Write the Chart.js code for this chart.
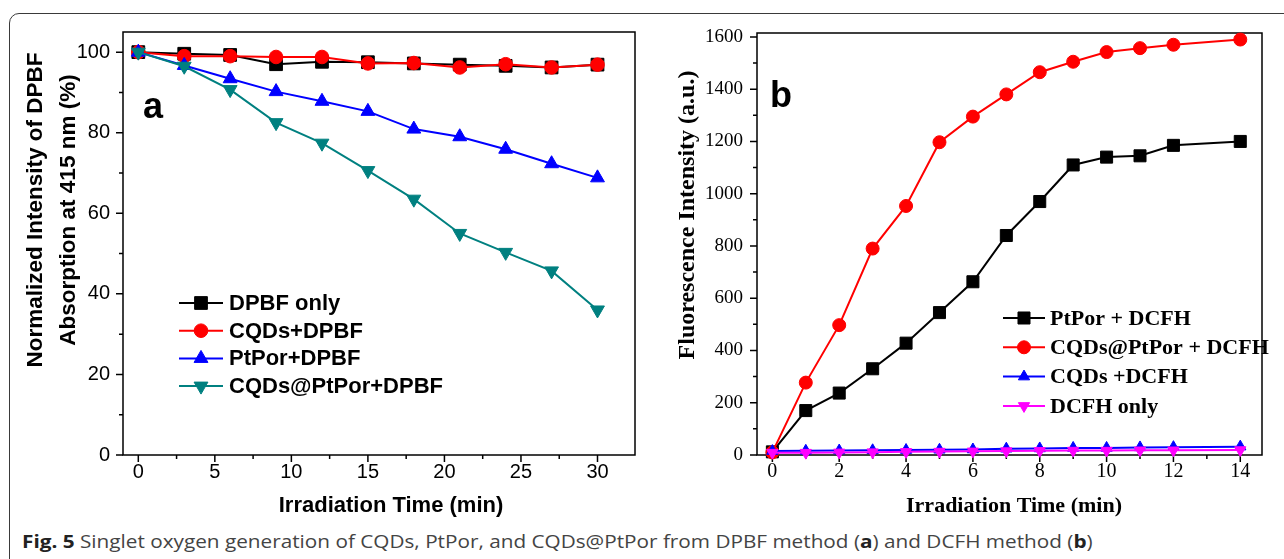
<!DOCTYPE html>
<html>
<head>
<meta charset="utf-8">
<script src="https://cdn.jsdelivr.net/npm/chart.js@4.4.1/dist/chart.umd.min.js"></script>
<style>
  body { margin: 0; background: #fff; width: 1284px; height: 559px; overflow: hidden; position: relative; }
  #frame { position: absolute; left: 9px; top: 13px; width: 1320px; height: 600px; border: 1.5px solid #3a3a3a; border-radius: 10px; }
  #ca { position: absolute; left: 0; top: 0; }
  #cb { position: absolute; left: 645px; top: 0; }
  #cap { position: absolute; left: 22px; top: 529px; font: 17.5px "Open Sans"; color: #444; white-space: nowrap;
         transform: scaleX(1.185); transform-origin: 0 0; }
  #cap b { color: #222; }
</style>
</head>
<body>
<div id="frame"></div>
<canvas id="ca" width="645" height="525"></canvas>
<canvas id="cb" width="639" height="525"></canvas>
<div id="cap"><b>Fig. 5</b> Singlet oxygen generation of CQDs, PtPor, and CQDs@PtPor from DPBF method (<b>a</b>) and DCFH method (<b>b</b>)</div>
<script>
// ---- panel a: DPBF method
const timeA = [0, 3, 6, 9, 12, 15, 18, 21, 24, 27, 30];
const dpbfOnly      = [100, 99.6, 99.3, 97.0, 97.6, 97.5, 97.2, 96.9, 96.6, 96.2, 96.9];
const cqdsDpbf      = [100, 99.0, 99.0, 98.8, 98.8, 97.2, 97.3, 96.2, 97.0, 96.2, 96.9];
const ptporDpbf     = [100, 96.7, 93.4, 90.2, 87.8, 85.3, 80.9, 79.0, 75.9, 72.3, 68.8];
const cqdsPtporDpbf = [100, 96.5, 90.7, 82.5, 77.4, 70.6, 63.5, 55.0, 50.3, 45.7, 36.0];
const xTicksA = [0, 5, 10, 15, 20, 25, 30];
const yTicksA = [0, 20, 40, 60, 80, 100];

// ---- panel b: DCFH method
const timeB = [0, 1, 2, 3, 4, 5, 6, 7, 8, 9, 10, 11, 12, 14];
const ptporDcfh     = [12, 170, 237, 330, 428, 545, 663, 840, 970, 1110, 1140, 1145, 1185, 1200];
const cqdsPtporDcfh = [10, 277, 497, 790, 953, 1197, 1295, 1380, 1465, 1505, 1542, 1557, 1570, 1590];
const cqdsDcfh      = [15, 16, 17, 18, 19, 20, 21, 24, 25, 27, 27, 29, 30, 32];
const dcfhOnly      = [9, 9, 10, 11, 12, 13, 14, 15, 16, 17, 17, 18, 18, 19];
const xTicksB = [0, 2, 4, 6, 8, 10, 12, 14];
const yTicksB = [0, 200, 400, 600, 800, 1000, 1200, 1400, 1600];

const SANS = '"Liberation Sans", Arial, sans-serif';
const SERIF = '"Liberation Serif", "Times New Roman", serif';

function pts(xs, ys) { return xs.map((x, i) => ({ x: x, y: ys[i] })); }

function series(label, xs, ys, color, style, radius, rot, n, i) {
  return {
    label: label, data: pts(xs, ys),
    borderColor: color, backgroundColor: color,
    pointBackgroundColor: color, pointBorderColor: color,
    borderWidth: 2, pointBorderWidth: 1,
    pointStyle: style, pointRadius: radius, pointRotation: rot || 0,
    tension: 0, clip: false, order: n - i
  };
}

function marker(ctx, style, rot, r, x, y, color) {
  ctx.fillStyle = color;
  ctx.strokeStyle = color;
  ctx.lineWidth = 1;
  ctx.beginPath();
  if (style === 'rect') {
    const s = r * Math.SQRT1_2;
    ctx.rect(x - s, y - s, 2 * s, 2 * s);
  } else if (style === 'circle') {
    ctx.arc(x, y, r, 0, Math.PI * 2);
  } else {
    let a = (rot || 0) * Math.PI / 180;
    ctx.moveTo(x + Math.sin(a) * r, y - Math.cos(a) * r);
    for (let k = 0; k < 2; k++) {
      a += Math.PI * 2 / 3;
      ctx.lineTo(x + Math.sin(a) * r, y - Math.cos(a) * r);
    }
    ctx.closePath();
  }
  ctx.fill();
  ctx.stroke();
}

// box, Origin-style ticks, titles and legend
const deco = {
  id: 'deco',
  beforeDatasetsDraw(chart, args, o) {
    const { ctx, chartArea: a, scales: { x, y } } = chart;
    ctx.save();
    ctx.strokeStyle = '#000';
    ctx.lineWidth = 1.5;
    ctx.strokeRect(a.left, a.top, a.right - a.left, a.bottom - a.top);
    ctx.beginPath();
    for (let v = 0; v <= o.xMax + 1e-9; v += o.xMinor) {
      const px = x.getPixelForValue(v);
      if (px > a.right) break;
      const len = o.xMajor.includes(+v.toFixed(3)) ? 7 : 4;
      ctx.moveTo(px, a.bottom);
      ctx.lineTo(px, a.bottom + len);
    }
    for (let v = 0; v <= o.yMax + 1e-9; v += o.yMinor) {
      const py = y.getPixelForValue(v);
      const len = o.yMajor.includes(+v.toFixed(3)) ? 7 : 4;
      ctx.moveTo(a.left, py);
      ctx.lineTo(a.left - len, py);
    }
    ctx.stroke();
    ctx.restore();
  },
  afterDraw(chart, args, o) {
    const ctx = chart.ctx;
    ctx.save();
    ctx.fillStyle = '#000';
    o.texts.forEach(t => {
      ctx.save();
      ctx.font = t.font;
      ctx.textAlign = 'center';
      ctx.textBaseline = t.base || 'middle';
      ctx.translate(t.x, t.y);
      if (t.rot) ctx.rotate(t.rot * Math.PI / 180);
      ctx.fillText(t.text, 0, 0);
      ctx.restore();
    });
    const L = o.legend;
    ctx.font = L.font;
    ctx.textAlign = 'left';
    ctx.textBaseline = 'middle';
    chart.data.datasets.forEach((ds, i) => {
      const yy = L.y + i * L.gap;
      ctx.strokeStyle = ds.borderColor;
      ctx.lineWidth = ds.borderWidth;
      ctx.beginPath();
      ctx.moveTo(L.x0, yy);
      ctx.lineTo(L.x1, yy);
      ctx.stroke();
      marker(ctx, ds.pointStyle, ds.pointRotation, ds.pointRadius, (L.x0 + L.x1) / 2, yy, ds.borderColor);
      ctx.fillStyle = '#000';
      ctx.fillText(ds.label, L.tx, yy + 1);
    });
    ctx.restore();
  }
};

function axisOpts(min, max, majors, font, pad, fit) {
  return {
    type: 'linear', min: min, max: max,
    grid: { display: false, drawTicks: false },
    border: { display: false },
    afterBuildTicks: s => { s.ticks = majors.map(v => ({ value: v })); },
    afterFit: fit,
    ticks: { color: '#000', font: font, padding: pad, autoSkip: false, maxRotation: 0,
             callback: v => String(v) }
  };
}

// panel a
new Chart(document.getElementById('ca'), {
  type: 'line',
  data: {
    datasets: [
      series('DPBF only', timeA, dpbfOnly, '#000000', 'rect', 9, 0, 4, 0),
      series('CQDs+DPBF', timeA, cqdsDpbf, '#ff0000', 'circle', 6.8, 0, 4, 1),
      series('PtPor+DPBF', timeA, ptporDpbf, '#0000ff', 'triangle', 8, 0, 4, 2),
      series('CQDs@PtPor+DPBF', timeA, cqdsPtporDpbf, '#008080', 'triangle', 8, 180, 4, 3)
    ]
  },
  options: {
    responsive: false, animation: false, events: [],
    layout: { padding: { left: 0, right: 2, top: 32, bottom: 0 } },
    scales: {
      x: axisOpts(-1, 32.45, xTicksA, { family: SANS, size: 20 }, 5, s => { s.height = 70; }),
      y: axisOpts(0, 105, yTicksA, { family: SANS, size: 20 }, 13, s => { s.width = 123; })
    },
    plugins: {
      legend: { display: false }, tooltip: { enabled: false },
      deco: {
        xMajor: xTicksA, xMinor: 2.5, xMax: 30,
        yMajor: yTicksA, yMinor: 10, yMax: 100,
        texts: [
          { text: 'Normalized Intensity of DPBF', x: 36, y: 210, rot: -90, font: 'bold 22.5px ' + SANS },
          { text: 'Absorption at 415 nm (%)', x: 69, y: 210, rot: -90, font: 'bold 22.5px ' + SANS },
          { text: 'Irradiation Time (min)', x: 391, y: 506, font: 'bold 22px ' + SANS },
          { text: 'a', x: 153, y: 118, base: 'alphabetic', font: 'bold 36px ' + SANS }
        ],
        legend: { x0: 179, x1: 223, tx: 229, y: 303, gap: 27.7, font: 'bold 22px ' + SANS }
      }
    }
  },
  plugins: [deco]
});

// panel b
new Chart(document.getElementById('cb'), {
  type: 'line',
  data: {
    datasets: [
      series('PtPor + DCFH', timeB, ptporDcfh, '#000000', 'rect', 8.5, 0, 4, 0),
      series('CQDs@PtPor + DCFH', timeB, cqdsPtporDcfh, '#ff0000', 'circle', 6.5, 0, 4, 1),
      series('CQDs +DCFH', timeB, cqdsDcfh, '#0000ff', 'triangle', 6.5, 0, 4, 2),
      series('DCFH only', timeB, dcfhOnly, '#ff00ff', 'triangle', 6.5, 180, 4, 3)
    ]
  },
  options: {
    responsive: false, animation: false, events: [],
    layout: { padding: { left: 0, right: 22, top: 33, bottom: 0 } },
    scales: {
      x: axisOpts(-0.46, 14.65, xTicksB, { family: SERIF, size: 20 }, 5, s => { s.height = 70; }),
      y: axisOpts(0, 1615, yTicksB, { family: SERIF, size: 19 }, 14, s => { s.width = 112; })
    },
    plugins: {
      legend: { display: false }, tooltip: { enabled: false },
      deco: {
        xMajor: xTicksB, xMinor: 1, xMax: 14.65,
        yMajor: yTicksB, yMinor: 100, yMax: 1600,
        texts: [
          { text: 'Fluorescence Intensity (a.u.)', x: 43, y: 215, rot: -90, font: 'bold 24px ' + SERIF },
          { text: 'Irradiation Time (min)', x: 369, y: 506, font: 'bold 22px ' + SERIF },
          { text: 'b', x: 136, y: 107, base: 'alphabetic', font: 'bold 36px ' + SANS }
        ],
        legend: { x0: 358, x1: 400, tx: 405, y: 318, gap: 29.3, font: 'bold 22px ' + SERIF }
      }
    }
  },
  plugins: [deco]
});
</script>
</body>
</html>
